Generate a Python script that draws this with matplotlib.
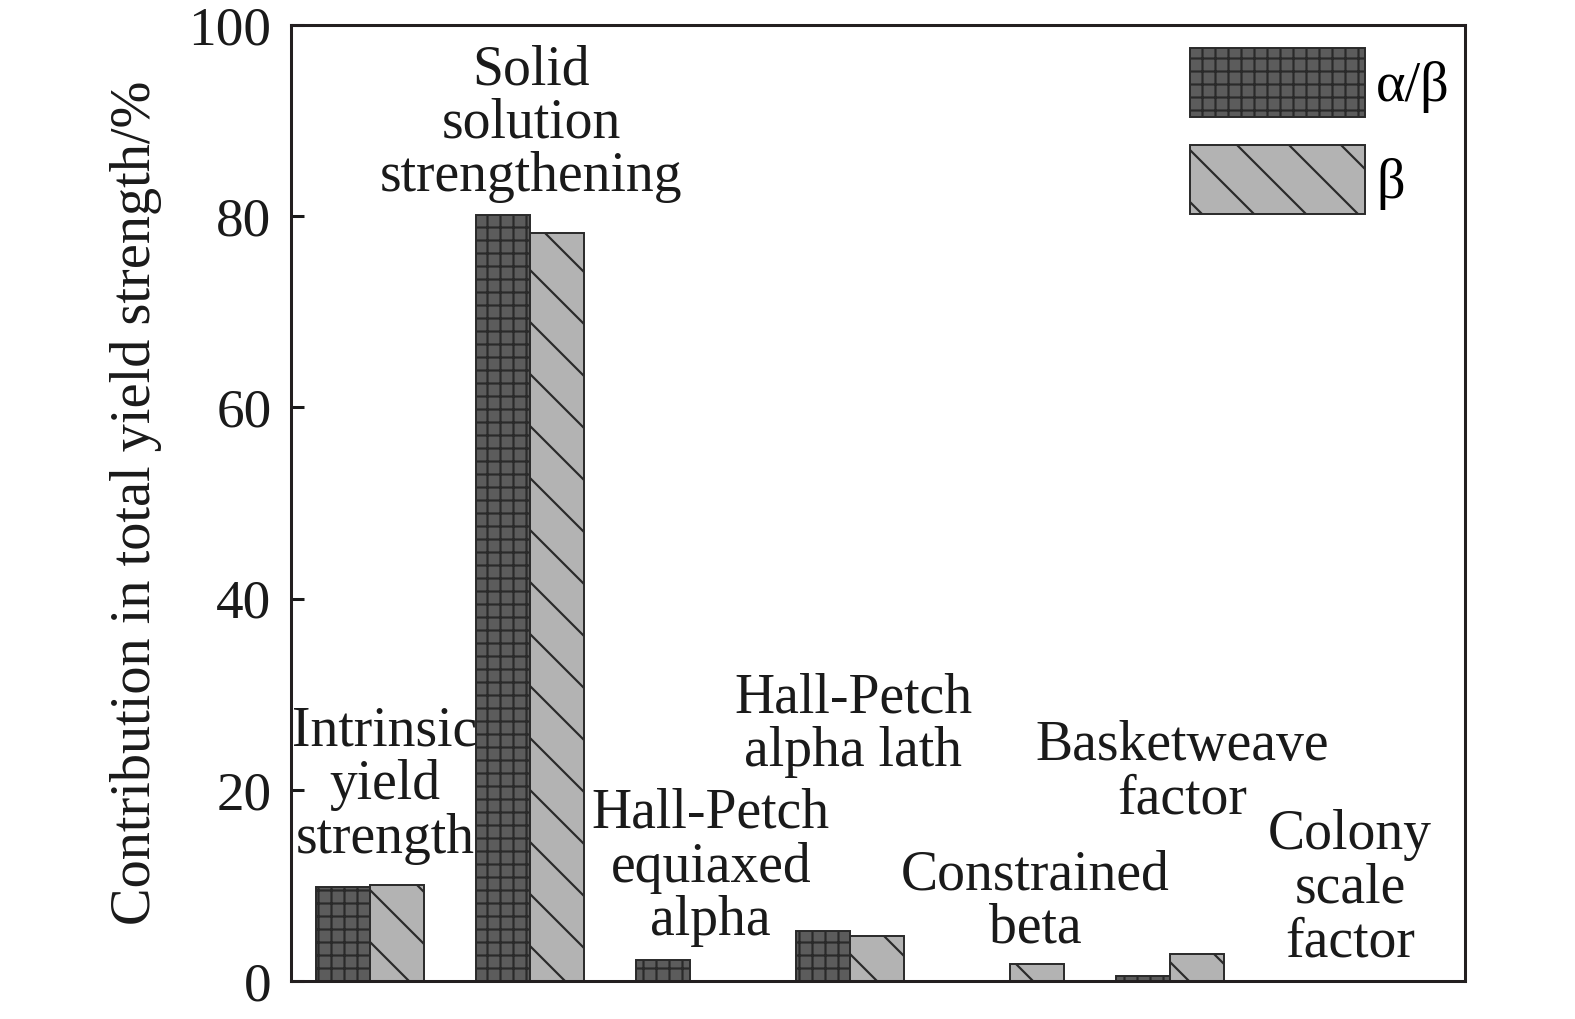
import matplotlib
matplotlib.use("Agg")
import matplotlib.pyplot as plt
import numpy as np

categories = ["Intrinsic\nyield\nstrength", "Solid\nsolution\nstrengthening",
              "Hall-Petch\nequiaxed\nalpha", "Hall-Petch\nalpha lath",
              "Constrained\nbeta", "Basketweave\nfactor", "Colony\nscale\nfactor"]
alpha_beta = [9.8, 80.1, 2.2, 5.2, 0.0, 0.5, 0.0]
beta = [10.0, 78.2, 0.0, 4.7, 1.8, 2.8, 0.0]
label_x = [0.094, 1.006, 2.13, 3.02, 4.16, 5.075, 6.125]
label_y = [13.4, 82.6, 4.8, 22.5, 4.0, 17.5, 2.6]
yticks = [0, 20, 40, 60, 80, 100]
series_names = ["α/β", "β"]

DPI = 156
plt.rcParams['font.family'] = ['Liberation Serif', 'DejaVu Serif']
plt.rcParams['hatch.linewidth'] = 1.0

fig = plt.figure(figsize=(1575 / DPI, 1019 / DPI), dpi=DPI)
ax = fig.add_axes([291 / 1575, 1 - 981 / 1019, 1174 / 1575, 956 / 1019])

x = np.arange(len(categories))
w = 0.3375
edge = '#2a2a2a'
ax.bar(x - w / 2, alpha_beta, w, facecolor='#5c5c5c', edgecolor=edge,
       hatch='++', linewidth=0.9, label=series_names[0], zorder=2)
ax.bar(x + w / 2, beta, w, facecolor='#b3b3b3', edgecolor=edge,
       hatch='\\', linewidth=0.9, label=series_names[1], zorder=2)

fs = 25.7
for lx, ly, txt in zip(label_x, label_y, categories):
    ax.text(lx, ly, txt, ha='center', va='baseline', fontsize=fs,
            linespacing=1.04, color='#1a1a1a', zorder=3)

ax.set_xlim(-0.494, 6.844)
ax.set_ylim(0, 100)
ax.set_xticks([])
ax.set_yticks(yticks)
ax.tick_params(axis='y', direction='in', length=6, width=1.4,
               labelsize=25.5, pad=9, colors='#1a1a1a')
for s in ax.spines.values():
    s.set_linewidth(1.4)
    s.set_color('#231f20')
ax.set_ylabel("Contribution in total yield strength/%", fontsize=26,
              labelpad=12, color='#1a1a1a')

leg = ax.legend(loc='upper left', bbox_to_anchor=(0.766, 0.976), frameon=False,
                fontsize=26, handlelength=3.1, handleheight=1.5,
                labelspacing=0.5, handletextpad=0.2, borderpad=0,
                borderaxespad=0)

fig.savefig("out.png", dpi=DPI)
